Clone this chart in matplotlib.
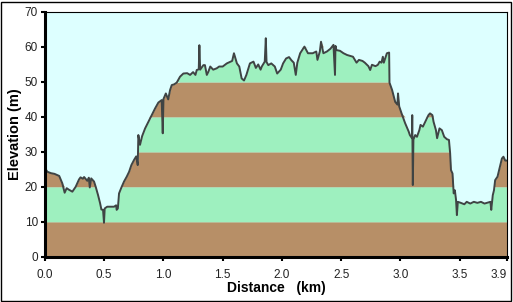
import numpy as np
import matplotlib
matplotlib.use("Agg")
from matplotlib import pyplot as plt
from matplotlib import font_manager
from matplotlib.patches import Rectangle

# elevation profile (km, m)
dist = [0.00, 0.02, 0.05, 0.08, 0.12, 0.146, 0.166, 0.183, 0.20, 0.231, 0.259, 0.287,
        0.30, 0.32, 0.33, 0.357, 0.37, 0.378, 0.39, 0.414, 0.428, 0.448, 0.465, 0.476,
        0.49, 0.498, 0.504, 0.525, 0.583, 0.60, 0.605, 0.615, 0.625, 0.645, 0.667, 0.69,
        0.71, 0.729, 0.752, 0.77, 0.783, 0.788, 0.802, 0.82, 0.845, 0.873, 0.90, 0.929,
        0.957, 0.985, 0.994, 1.00, 1.02, 1.04, 1.056, 1.07, 1.09, 1.112, 1.14, 1.168,
        1.20, 1.225, 1.25, 1.27, 1.281, 1.298, 1.303, 1.31, 1.337, 1.35, 1.366, 1.379,
        1.395, 1.42, 1.45, 1.47, 1.50, 1.535, 1.56, 1.58, 1.595, 1.62, 1.64, 1.66, 1.68,
        1.70, 1.73, 1.76, 1.78, 1.80, 1.82, 1.83, 1.855, 1.864, 1.87, 1.885, 1.91, 1.94,
        1.96, 1.99, 2.01, 2.035, 2.06, 2.08, 2.10, 2.117, 2.13, 2.154, 2.19, 2.22, 2.26,
        2.29, 2.30, 2.32, 2.33, 2.35, 2.38, 2.41, 2.435, 2.448, 2.452, 2.46, 2.49, 2.52,
        2.55, 2.58, 2.60, 2.62, 2.63, 2.65, 2.68, 2.70, 2.73, 2.745, 2.76, 2.79, 2.81,
        2.825, 2.84, 2.852, 2.86, 2.886, 2.905, 2.908, 2.93, 2.956, 2.975, 2.98, 2.99,
        3.01, 3.04, 3.07, 3.08, 3.098, 3.10, 3.105, 3.11, 3.125, 3.14, 3.16, 3.17, 3.19,
        3.21, 3.237, 3.25, 3.27, 3.28, 3.30, 3.31, 3.33, 3.35, 3.37, 3.393, 3.41, 3.42,
        3.427, 3.44, 3.45, 3.46, 3.47, 3.477, 3.485, 3.51, 3.54, 3.56, 3.59, 3.62, 3.65,
        3.68, 3.71, 3.73, 3.76, 3.767, 3.78, 3.79, 3.80, 3.82, 3.83, 3.84, 3.857, 3.87,
        3.885, 3.90]
elev = [25.3, 24.3, 23.9, 23.7, 23.1, 21.0, 18.3, 19.6, 19.2, 18.6, 20.0, 22.1,
        22.7, 22.3, 22.8, 21.7, 22.6, 19.8, 22.4, 21.5, 20.0, 17.6, 15.3, 13.5,
        13.4, 9.7, 13.8, 14.3, 14.3, 14.7, 13.4, 13.8, 18.1, 19.8, 21.5, 22.9,
        24.3, 26.2, 27.7, 28.7, 26.2, 34.8, 32.0, 34.5, 36.7, 38.6, 40.5, 42.4,
        44.1, 44.8, 35.3, 45.1, 46.7, 45.0, 47.7, 49.1, 49.3, 49.8, 51.5, 52.4,
        52.5, 52.0, 52.8, 52.0, 53.4, 53.6, 60.5, 53.5, 54.8, 54.8, 52.0, 52.9,
        54.4, 53.5, 53.9, 54.4, 54.4, 55.3, 55.7, 56.0, 58.2, 55.3, 54.4, 51.0, 50.4,
        52.0, 55.3, 55.8, 54.0, 55.0, 53.5, 54.4, 55.8, 62.5, 55.7, 54.8, 55.3, 54.4,
        52.4, 53.5, 55.3, 56.7, 57.1, 56.2, 55.5, 52.0, 55.5, 58.2, 60.1, 58.2, 58.2,
        58.7, 56.3, 58.7, 61.5, 58.2, 58.7, 59.5, 60.6, 52.0, 60.3, 59.1, 58.9, 58.2,
        57.7, 57.4, 57.2, 56.1, 55.5, 56.3, 56.0, 55.5, 54.5, 53.4, 54.9, 54.5, 54.9,
        55.8, 55.5, 57.2, 55.5, 58.2, 58.4, 49.8, 47.7, 44.3, 43.5, 46.7, 43.0,
        41.0, 38.2, 35.8, 34.8, 33.9, 40.5, 20.5, 33.5, 34.8, 34.3, 36.2, 37.7, 37.2,
        38.6, 40.5, 41.0, 40.5, 38.6, 36.2, 33.9, 36.7, 36.2, 34.3, 33.6, 33.4, 29.6,
        24.8, 23.8, 18.1, 19.0, 16.2, 11.9, 15.7, 15.4, 15.0, 15.7, 15.2, 15.7, 15.4,
        15.7, 15.2, 15.4, 15.7, 13.4, 17.6, 19.0, 21.9, 22.9, 24.3, 25.7, 28.1, 28.6,
        27.5, 27.5]

band_edges = [0, 10, 20, 30, 40, 50, 60, 70]
band_colors = ["#b78f67", "#9ef0bf"]
xticks = [0.0, 0.5, 1.0, 1.5, 2.0, 2.5, 3.0, 3.5, 3.9]
xticklabels = ["0.0", "0.5", "1.0", "1.5", "2.0", "2.5", "3.0", "3.5", "3.9"]
yticks = [0, 10, 20, 30, 40, 50, 60, 70]

# narrow face for the tick numbers if there is one
try:
    font_manager.findfont("Liberation Sans Narrow", fallback_to_default=False)
    tick_family, tick_size = "Liberation Sans Narrow", 9.5
except ValueError:
    tick_family, tick_size = "Liberation Sans", 8.5

x = np.asarray(dist)
y = np.asarray(elev)

fig = plt.figure(figsize=(5.13, 3.02), dpi=100)
ax = fig.add_axes([45 / 513, 45.3 / 302, 462 / 513, 244.7 / 302])
ax.set_facecolor("#ddffff")

# alternating 10 m bands under the profile
for i in range(len(band_edges) - 1):
    lo, hi = band_edges[i], band_edges[i + 1]
    ax.fill_between(x, lo, np.clip(y, lo, hi), color=band_colors[i % 2],
                    linewidth=0)
ax.plot(x, y, color="#3f4444", linewidth=1.4)

ax.set_xlim(0, 3.9)
ax.set_ylim(0, 70)
ax.set_xticks(xticks)
ax.set_xticklabels(xticklabels)
ax.set_yticks(yticks)

for lab in ax.get_xticklabels() + ax.get_yticklabels():
    lab.set_family(tick_family)
    lab.set_fontsize(tick_size)
    lab.set_color("#222222")
# last distance label sits against the right edge
ax.get_xticklabels()[-1].set_horizontalalignment("right")
ax.tick_params(direction="out", length=3, width=1.5)
ax.tick_params(axis="x", pad=6)
ax.tick_params(axis="y", pad=2)

ax.spines["left"].set_linewidth(2.2)
ax.spines["bottom"].set_linewidth(2.2)
ax.spines["top"].set_linewidth(0.8)
ax.spines["right"].set_linewidth(0.8)

ax.set_xlabel("Distance   (km)", fontsize=10, fontweight="bold",
              family="Liberation Sans")
ax.set_ylabel("Elevation (m)", fontsize=10.5, fontweight="bold",
              family="Liberation Sans")
ax.xaxis.set_label_coords(0.5, -31 / 244.7, transform=ax.transAxes)
ax.xaxis.label.set_va("center")
ax.yaxis.set_label_coords(-30 / 462, 0.5, transform=ax.transAxes)
ax.yaxis.label.set_va("center")

# outer frame round the whole picture
fig.patches.append(Rectangle((0.002, 0.003), 0.994, 0.992, transform=fig.transFigure,
                             fill=False, edgecolor="black", linewidth=1.0))

plt.savefig("out.png", dpi=100)
